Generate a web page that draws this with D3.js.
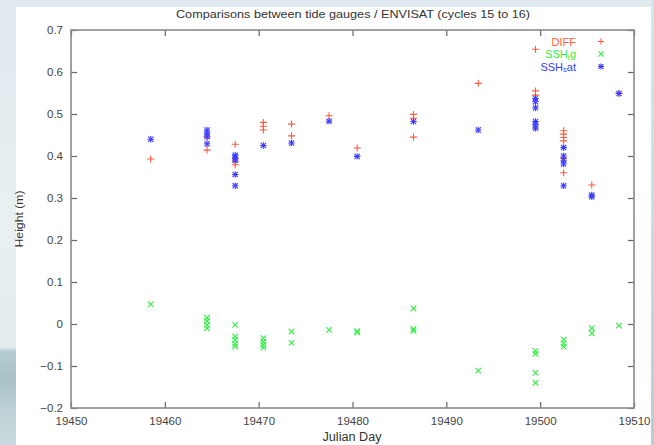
<!DOCTYPE html>
<html><head><meta charset="utf-8">
<script src="https://cdn.jsdelivr.net/npm/d3@7"></script>
<style>body{margin:0;padding:0;overflow:hidden}svg{display:block}text{font-family:"Liberation Sans",Arial,sans-serif}</style>
</head><body>
<script>
// ---- data ----
const xTicks = [19450, 19460, 19470, 19480, 19490, 19500, 19510];
const yTicks = [-0.2, -0.1, 0, 0.1, 0.2, 0.3, 0.4, 0.5, 0.6, 0.7];
const diffDays = [19458.5, 19464.5, 19464.5, 19467.5, 19467.5, 19467.5, 19467.5, 19470.5, 19470.5, 19470.5, 19473.5, 19473.5, 19477.5, 19480.5, 19486.5, 19486.5, 19486.5, 19493.4, 19499.5, 19499.5, 19499.5, 19502.5, 19502.5, 19502.5, 19502.5, 19502.5, 19502.5, 19505.5, 19508.4];
const diffValues = [0.393, 0.414, 0.445, 0.428, 0.394, 0.386, 0.379, 0.480, 0.471, 0.462, 0.476, 0.448, 0.496, 0.419, 0.499, 0.490, 0.445, 0.573, 0.654, 0.555, 0.545, 0.460, 0.452, 0.444, 0.436, 0.395, 0.360, 0.331, 0.549];
const tgDays = [19458.5, 19464.5, 19464.5, 19464.5, 19464.5, 19467.5, 19467.5, 19467.5, 19467.5, 19467.5, 19470.5, 19470.5, 19470.5, 19470.5, 19473.5, 19473.5, 19477.5, 19480.5, 19480.5, 19486.5, 19486.5, 19486.5, 19493.4, 19499.5, 19499.5, 19499.5, 19499.5, 19502.5, 19502.5, 19502.5, 19505.5, 19505.5, 19508.4];
const tgValues = [0.047, 0.015, 0.007, -0.002, -0.010, -0.002, -0.030, -0.038, -0.048, -0.054, -0.034, -0.042, -0.050, -0.056, -0.018, -0.045, -0.014, -0.017, -0.020, 0.037, -0.012, -0.016, -0.111, -0.064, -0.071, -0.116, -0.140, -0.037, -0.046, -0.054, -0.010, -0.022, -0.004];
const satDays = [19458.5, 19464.5, 19464.5, 19464.5, 19464.5, 19467.5, 19467.5, 19467.5, 19467.5, 19467.5, 19470.5, 19473.5, 19477.5, 19480.5, 19486.5, 19493.4, 19499.5, 19499.5, 19499.5, 19499.5, 19499.5, 19499.5, 19502.5, 19502.5, 19502.5, 19502.5, 19502.5, 19505.5, 19505.5, 19508.4];
const satValues = [0.440, 0.462, 0.454, 0.446, 0.429, 0.402, 0.397, 0.390, 0.356, 0.329, 0.425, 0.431, 0.483, 0.399, 0.482, 0.462, 0.537, 0.529, 0.515, 0.482, 0.474, 0.466, 0.420, 0.400, 0.390, 0.381, 0.329, 0.307, 0.303, 0.549];

const W = 654, H = 445;
const svg = d3.select("body").append("svg").attr("width", W).attr("height", H);

// background (photo-like)
const defs = svg.append("defs");
const g1 = defs.append("linearGradient").attr("id","bg").attr("x1",0).attr("y1",0).attr("x2",0).attr("y2",1);
[[0,"#dfe9ee"],[0.5,"#e9f0f2"],[0.78,"#e4ecee"],[0.79,"#b5cdd2"],[0.85,"#a8c2c7"],[0.92,"#bcd1d5"],[1,"#c8dadc"]].forEach(s=>g1.append("stop").attr("offset",s[0]).attr("stop-color",s[1]));
svg.append("rect").attr("width",W).attr("height",H).attr("fill","url(#bg)");
const g2 = defs.append("linearGradient").attr("id","bgr").attr("x1",0).attr("y1",0).attr("x2",0).attr("y2",1);
[[0,"#d7e6ee"],[0.5,"#c9dbe4"],[1,"#b8ccd4"]].forEach(s=>g2.append("stop").attr("offset",s[0]).attr("stop-color",s[1]));
svg.append("rect").attr("x",651).attr("y",0).attr("width",3).attr("height",H).attr("fill","url(#bgr)");
svg.append("rect").attr("x",16).attr("y",7).attr("width",635).attr("height",H-7).attr("fill","#ffffff");

const m = {l:71, r:634, t:30, b:408};
const x = d3.scaleLinear().domain([19450, 19510]).range([m.l, m.r]);
const y = d3.scaleLinear().domain([-0.2, 0.7]).range([m.b, m.t]);

// axes with inward ticks (gnuplot style, mirrored)
const tl = 6;
const axB = svg.append("g").attr("transform",`translate(0,${m.b})`)
  .call(d3.axisBottom(x).tickValues(xTicks).tickFormat(d3.format("d")).tickSizeInner(-tl).tickSizeOuter(0).tickPadding(9));
const axT = svg.append("g").attr("transform",`translate(0,${m.t})`)
  .call(d3.axisTop(x).tickValues(xTicks).tickFormat("").tickSizeInner(-tl).tickSizeOuter(0));
const axL = svg.append("g").attr("transform",`translate(${m.l},0)`)
  .call(d3.axisLeft(y).tickValues(yTicks).tickFormat(d=>d3.format("")(Math.round(d*10)/10)).tickSizeInner(-tl).tickSizeOuter(0).tickPadding(8));
const axR = svg.append("g").attr("transform",`translate(${m.r},0)`)
  .call(d3.axisRight(y).tickValues(yTicks).tickFormat("").tickSizeInner(-tl).tickSizeOuter(0));
[axB,axT,axL,axR].forEach(a=>{
  a.select(".domain").remove();
  a.selectAll(".tick line").attr("stroke","#666").attr("stroke-width",1.2);
  a.selectAll(".tick text").attr("fill","#444").attr("font-size","11.5px");
});
svg.append("rect").attr("x",m.l).attr("y",m.t).attr("width",m.r-m.l).attr("height",m.b-m.t)
  .attr("fill","none").attr("stroke","#8a8a8a").attr("stroke-width",1.6);

// markers
function plus(sel, s){ sel.append("path").attr("d",`M${-s},0H${s}M0,${-s}V${s}`); }
function cross(sel, s){ sel.append("path").attr("d",`M${-s},${-s}L${s},${s}M${-s},${s}L${s},${-s}`); }
const cDiff = "#ff5a3c", cTg = "#33ee44", cSat = "#3a3aff";

function series(days, vals, color, kind){
  const g = svg.append("g").attr("stroke",color).attr("stroke-width",1.1).attr("fill","none");
  days.forEach((d,i)=>{
    const p = g.append("g").attr("transform",`translate(${x(d)},${y(vals[i])})`);
    if(kind==="+") plus(p,3.5);
    else if(kind==="x") cross(p,2.8);
    else { plus(p,3.2); cross(p,2.6); }
  });
}
series(tgDays, tgValues, cTg, "x");
series(diffDays, diffValues, cDiff, "+");
series(satDays, satValues, cSat, "*");

// legend
const lg = [
  {c:cDiff, k:"+", parts:[["DIFF",false]]},
  {c:cTg, k:"x", parts:[["SSH",false],["t",true],["g",false]]},
  {c:cSat, k:"*", parts:[["SSH",false],["s",true],["at",false]]}
];
lg.forEach((e,i)=>{
  const yy = 41.5 + i*12.5;
  const t = svg.append("text").attr("x",576).attr("y",yy+4).attr("text-anchor","end").attr("fill",e.c).attr("font-size","11px");
  e.parts.forEach((p,j)=>{
    const ts = t.append("tspan").text(p[0]);
    if(p[1]) ts.attr("font-size","7.5px").attr("dy",1.5);
    else if(j>0) ts.attr("dy",-1.5);
  });
  const p = svg.append("g").attr("stroke",e.c).attr("stroke-width",1.1).attr("fill","none").attr("transform",`translate(601,${yy})`);
  if(e.k==="+") plus(p,3); else if(e.k==="x") cross(p,2.6); else { plus(p,3); cross(p,2.4); }
});

// titles
svg.append("text").attr("x",353).attr("y",18).attr("text-anchor","middle").attr("font-size","11px").attr("fill","#333")
  .attr("textLength",354).attr("lengthAdjust","spacingAndGlyphs")
  .text("Comparisons between tide gauges / ENVISAT (cycles 15 to 16)");
svg.append("text").attr("x",352).attr("y",441).attr("text-anchor","middle").attr("font-size","12px").attr("fill","#333")
  .attr("textLength",59).attr("lengthAdjust","spacingAndGlyphs").text("Julian Day");
svg.append("text").attr("transform","translate(23,219) rotate(-90)").attr("text-anchor","middle").attr("font-size","11px").attr("fill","#333")
  .attr("textLength",57).attr("lengthAdjust","spacingAndGlyphs").text("Height (m)");
</script>
</body></html>
